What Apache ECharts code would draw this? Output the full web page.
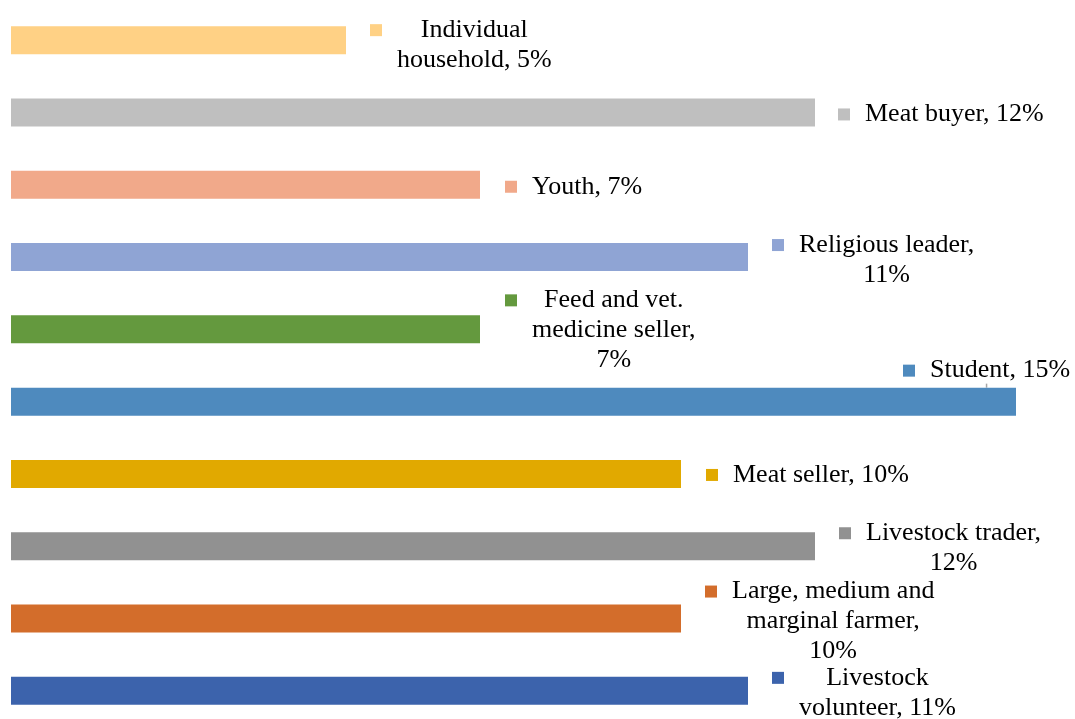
<!DOCTYPE html>
<html>
<head>
<meta charset="utf-8">
<script src="https://cdn.jsdelivr.net/npm/echarts@6/dist/echarts.min.js"></script>
<style>
  html, body { margin: 0; padding: 0; background: #fff; }
  #chart { width: 1075px; height: 719px; }
</style>
</head>
<body>
<div id="chart"></div>
<script>
// top to bottom
const categories = [
  "Individual household", "Meat buyer", "Youth", "Religious leader",
  "Feed and vet. medicine seller", "Student", "Meat seller",
  "Livestock trader", "Large, medium and marginal farmer", "Livestock volunteer"
];
const values = [5, 12, 7, 11, 7, 15, 10, 12, 10, 11];
const colors = [
  "#FFD185", "#BFBFBF", "#F1A98A", "#8FA4D4", "#64993E",
  "#4E8ABE", "#E1A900", "#919191", "#D36D2B", "#3C63AC"
];
// wrapped data label text as in the original
const labelText = [
  ["Individual", "household, 5%"],
  ["Meat buyer, 12%"],
  ["Youth, 7%"],
  ["Religious leader,", "11%"],
  ["Feed and vet.", "medicine seller,", "7%"],
  ["Student, 15%"],
  ["Meat seller, 10%"],
  ["Livestock trader,", "12%"],
  ["Large, medium and", "marginal farmer,", "10%"],
  ["Livestock", "volunteer, 11%"]
];
// label shifts from bar end
const labelDx = [24, 23, 25, 24, 25, -113, 25, 24, 24, 24];
const labelDy = [5, 2, 2, 3, 1, -31, 1, 2, 3, 2];

const FONT = "'Liberation Serif', 'Times New Roman', serif";
const LH = 30;

const chart = echarts.init(document.getElementById("chart"));

const data = values.map((v, i) => ({
  value: v,
  itemStyle: { color: colors[i] },
  label: {
    formatter: labelText[i]
      .map((l, j) => (j === 0 ? "{sq|}" : "{sp|}") + "{g|}{t|" + l + "}")
      .join("\n"),
    rich: {
      sq: { width: 12, height: 12, backgroundColor: colors[i], align: "left", lineHeight: LH },
      sp: { width: 12, height: 12, align: "left", lineHeight: LH },
      g: { width: 15, align: "left", lineHeight: LH },
      t: { align: "center", fontSize: 26, fontFamily: FONT, color: "#000", lineHeight: LH }
    }
  },
  labelLine: {
    show: i === 5,
    lineStyle: { color: "#A6A6A6", width: 1.5 }
  }
}));

chart.setOption({
  animation: false,
  backgroundColor: "#fff",
  grid: { left: 11, right: 59, top: 4, height: 723, outerBoundsMode: "none" },
  xAxis: {
    type: "value",
    min: 0,
    max: 15,
    show: false
  },
  yAxis: {
    type: "category",
    data: categories,
    inverse: true,
    show: false
  },
  series: [
    {
      type: "bar",
      data: data,
      barWidth: 28,
      label: {
        show: true,
        position: "right",
        distance: 0
      },
      labelLayout: (params) => ({
        dx: labelDx[params.dataIndex],
        dy: labelDy[params.dataIndex]
      })
    }
  ]
});
</script>
</body>
</html>
